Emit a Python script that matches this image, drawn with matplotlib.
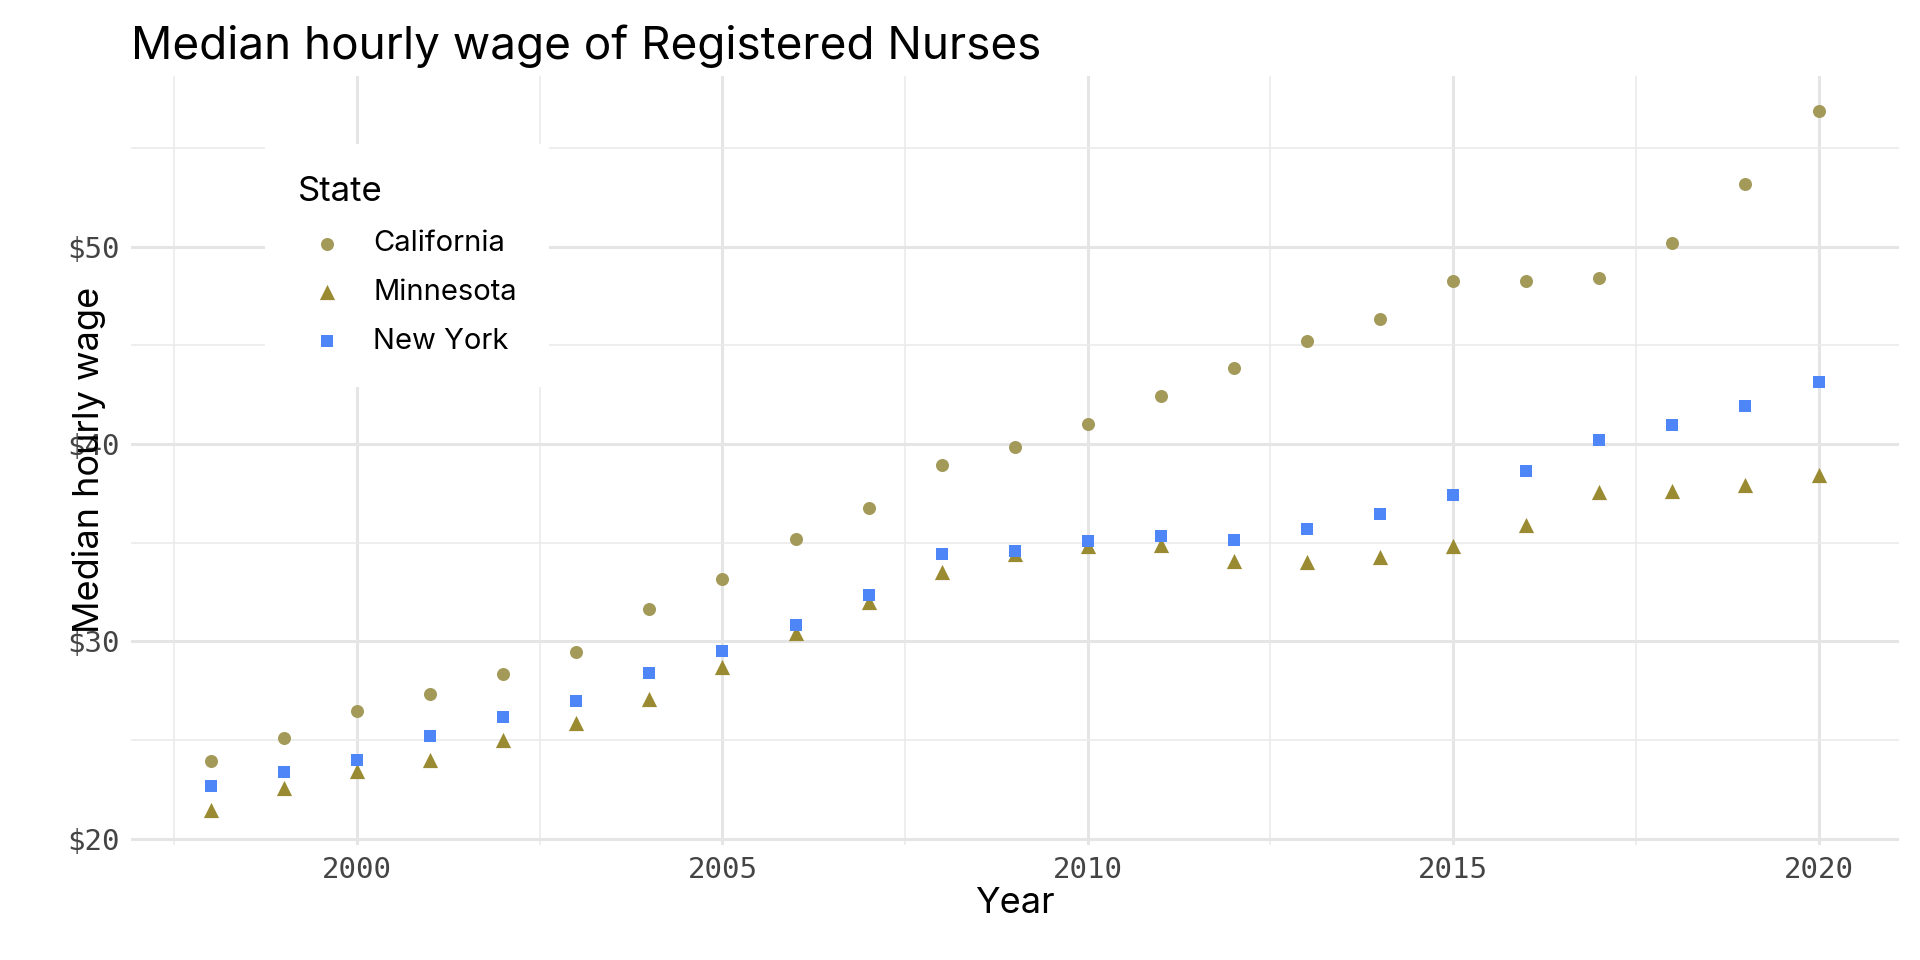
import matplotlib
matplotlib.use("Agg")
import matplotlib.pyplot as plt
from matplotlib.ticker import FixedLocator

years = list(range(1998, 2021))
california = [23.96, 25.13, 26.5, 27.36, 28.35, 29.46, 31.63, 33.17, 35.2, 36.76, 38.93, 39.85,
              41.03, 42.45, 43.87, 45.23, 46.35, 48.26, 48.26, 48.39, 50.18, 53.15, 56.86]
minnesota = [21.48, 22.6, 23.46, 24.02, 25.0, 25.87, 27.1, 28.72, 30.45, 32.0, 33.54, 34.41,
             34.84, 34.9, 34.1, 34.04, 34.29, 34.84, 35.89, 37.56, 37.63, 37.93, 38.43]
new_york = [22.66, 23.4, 24.02, 25.19, 26.18, 26.99, 28.41, 29.52, 30.82, 32.37, 34.41, 34.6,
            35.09, 35.34, 35.15, 35.71, 36.45, 37.44, 38.61, 40.22, 40.96, 41.95, 43.13]
x_ticks = [2000, 2005, 2010, 2015, 2020]
y_ticks = [20, 30, 40, 50]
y_labels = ["$20", "$30", "$40", "$50"]

plt.rcParams['font.family'] = ['Inter', 'DejaVu Sans']
fig = plt.figure(figsize=(9.6, 4.8), dpi=200)
ax = fig.add_axes([0.068, 0.12, 0.921, 0.801])

ax.scatter(years, california, marker='o', s=22, color='#A39A5A', label='California', zorder=3, linewidths=0)
ax.scatter(years, minnesota, marker='^', s=30, color='#9A8B32', label='Minnesota', zorder=3, linewidths=0)
ax.scatter(years, new_york, marker='s', s=20, color='#4F86F7', label='New York', zorder=3, linewidths=0)

ax.set_xlim(1996.9, 2021.1)
ax.set_ylim(19.7, 58.65)
ax.set_xticks(x_ticks)
ax.set_yticks(y_ticks)
ax.set_yticklabels(y_labels)
ax.xaxis.set_minor_locator(FixedLocator([1997.5, 2002.5, 2007.5, 2012.5, 2017.5]))
ax.yaxis.set_minor_locator(FixedLocator([25, 35, 45, 55]))
ax.grid(which='major', color='#E5E5E5', linewidth=1.1)
ax.grid(which='minor', color='#EBEBEB', linewidth=0.6)
ax.set_axisbelow(True)
for s in ax.spines.values():
    s.set_visible(False)
ax.tick_params(which='both', length=0, pad=4)
for lab in ax.get_xticklabels() + ax.get_yticklabels():
    lab.set_family('DejaVu Sans Mono')
    lab.set_color('#444444')
    lab.set_fontsize(10.5)

ax.set_xlabel('Year', fontsize=13, labelpad=1)
ax.set_ylabel('Median hourly wage', fontsize=13, labelpad=-14)
ax.set_title('Median hourly wage of Registered Nurses', fontsize=16.5, loc='left', pad=6)
ax.title.set_position((-0.0, 1.0))

leg = ax.legend(title='State', loc='upper left', bbox_to_anchor=(0.068, 0.93), frameon=True,
                fontsize=10.5, title_fontsize=12.5, handletextpad=0.6, borderpad=1.1,
                labelspacing=0.75, markerscale=1.0, fancybox=False)
leg.get_frame().set_edgecolor('none')
leg.get_frame().set_facecolor('white')
leg.get_frame().set_alpha(1)
leg._legend_box.align = 'left'

fig.savefig('out.png', dpi=200, facecolor='white')
